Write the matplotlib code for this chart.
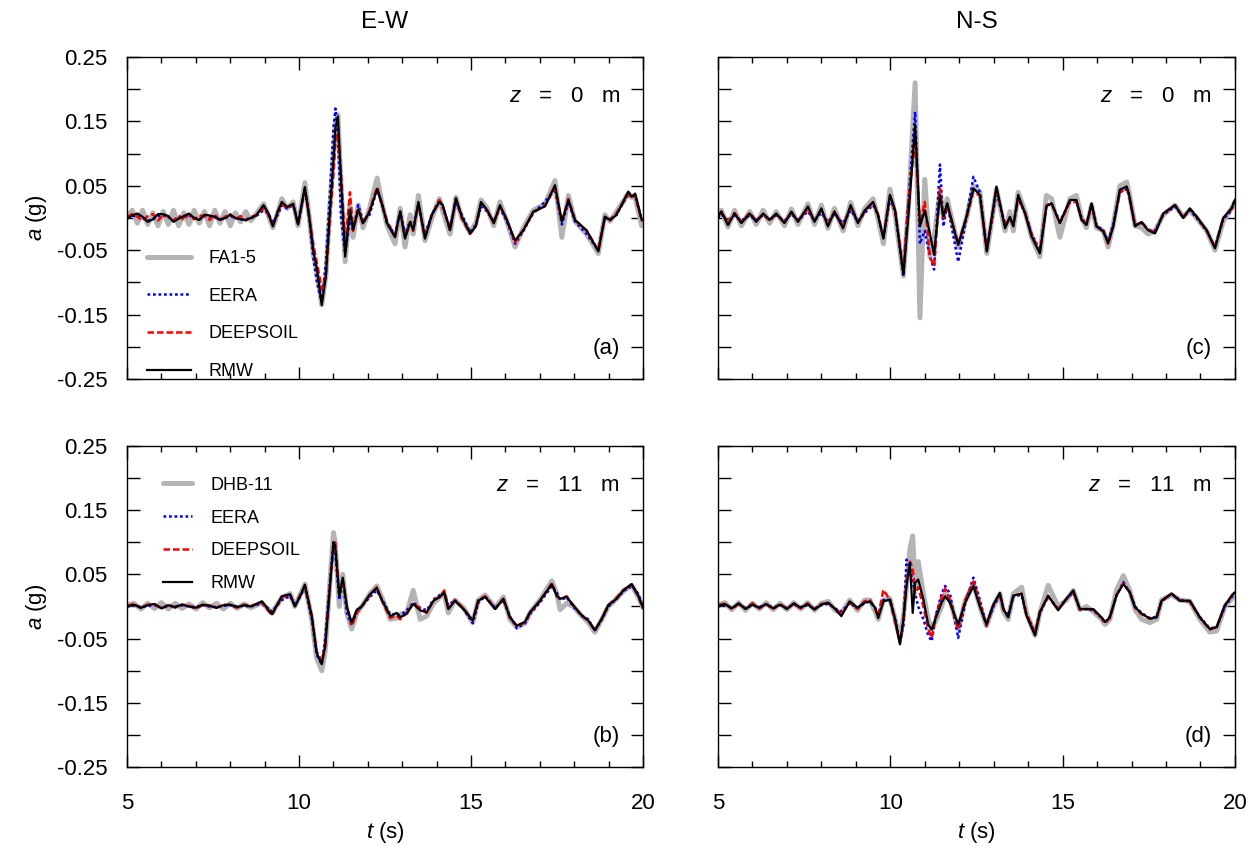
import matplotlib
matplotlib.use("Agg")
import matplotlib.pyplot as plt
from matplotlib.ticker import MultipleLocator

plt.rcParams['font.family'] = ['Liberation Sans', 'DejaVu Sans']
plt.rcParams['mathtext.fontset'] = 'custom'
plt.rcParams['mathtext.rm'] = 'Liberation Sans'
plt.rcParams['mathtext.it'] = 'Liberation Sans:italic'

# ---------------- panel (a): E-W, z = 0 m ----------------
t_a = [5.0, 5.15, 5.3, 5.45, 5.6, 5.75, 5.9, 6.05, 6.2, 6.35,
       6.5, 6.65, 6.8, 6.95, 7.1, 7.25, 7.4, 7.55, 7.7, 7.85,
       8.0, 8.15, 8.3, 8.45, 8.6, 8.75, 8.97, 9.1, 9.24, 9.38,
       9.5, 9.65, 9.83, 9.97, 10.17, 10.3, 10.41, 10.52, 10.66, 10.78,
       10.9, 11.0, 11.06, 11.13, 11.22, 11.34, 11.48, 11.57, 11.72, 11.86,
       12.05, 12.27, 12.42, 12.56, 12.79, 12.94, 13.08, 13.23, 13.32, 13.47,
       13.66, 13.86, 14.08, 14.18, 14.39, 14.56, 14.73, 14.97, 15.14, 15.29,
       15.47, 15.66, 15.84, 16.04, 16.28, 16.52, 16.81, 17.15, 17.44, 17.64,
       17.83, 18.02, 18.36, 18.7, 18.89, 19.04, 19.23, 19.57, 19.67, 19.77,
       19.96, 20.0]
rec_a = [0.0, 0.012, -0.008, 0.012, -0.01, 0.008, -0.012, 0.01, -0.01, 0.012,
         -0.012, 0.008, -0.01, 0.012, -0.008, 0.01, -0.012, 0.012, -0.008, 0.01,
         -0.012, 0.008, -0.006, 0.01, -0.004, 0.006, 0.022, 0.005, -0.015, 0.008,
         0.03, 0.015, 0.025, -0.012, 0.055, 0.0, -0.055, -0.085, -0.135, -0.09,
         0.02, 0.1, 0.15, 0.16, 0.05, -0.068, 0.02, -0.03, 0.02, -0.015,
         0.015, 0.062, 0.02, -0.012, -0.04, 0.015, -0.045, 0.005, -0.025, 0.035,
         -0.035, 0.0, 0.03, 0.01, -0.025, 0.032, 0.0, -0.022, -0.008, 0.028,
         0.015, -0.012, 0.025, -0.005, -0.045, -0.015, 0.012, 0.022, 0.058, -0.03,
         0.035, -0.005, -0.025, -0.055, 0.005, -0.005, 0.01, 0.038, 0.032, 0.032,
         -0.012, -0.01]
eera_a = [0.0, 0.003, 0.004, 0.0, -0.004, -0.002, 0.003, 0.004, 0.001, -0.003,
          0.0, 0.002, 0.004, 0.0, -0.002, 0.003, 0.002, 0.001, -0.002, 0.0,
          0.003, 0.0, -0.002, -0.002, 0.0, 0.003, 0.012, 0.008, -0.008, 0.005,
          0.02, 0.015, 0.02, -0.008, 0.045, 0.0, -0.06, -0.1, -0.13, -0.07,
          0.04, 0.14, 0.17, 0.13, 0.0, -0.055, 0.0, -0.02, 0.02, -0.005,
          0.005, 0.045, 0.02, -0.01, -0.025, 0.01, -0.025, -0.005, -0.015, 0.02,
          -0.025, 0.005, 0.028, 0.015, -0.015, 0.025, 0.005, -0.022, -0.01, 0.018,
          0.01, -0.005, 0.015, -0.005, -0.04, -0.02, 0.008, 0.025, 0.045, -0.01,
          0.025, -0.005, -0.025, -0.05, 0.0, -0.002, 0.005, 0.038, 0.032, 0.035,
          -0.002, -0.004]
deep_a = [0.002, 0.006, 0.002, -0.004, 0.003, 0.006, -0.004, 0.005, 0.002, -0.005,
          0.004, -0.003, 0.006, -0.002, 0.004, 0.003, -0.003, 0.005, -0.004, 0.002,
          0.006, -0.002, 0.003, -0.004, 0.002, 0.004, 0.015, 0.006, -0.012, 0.01,
          0.022, 0.015, 0.022, -0.01, 0.045, 0.0, -0.04, -0.07, -0.11, -0.09,
          0.0, 0.07, 0.12, 0.13, 0.07, -0.045, 0.04, -0.02, 0.015, -0.01,
          0.012, 0.048, 0.02, -0.005, -0.028, 0.01, -0.03, -0.006, -0.02, 0.022,
          -0.03, 0.005, 0.028, 0.018, -0.02, 0.03, 0.0, -0.025, -0.012, 0.022,
          0.012, -0.008, 0.018, -0.003, -0.038, -0.018, 0.008, 0.02, 0.046, -0.006,
          0.03, -0.003, -0.02, -0.05, 0.002, -0.004, 0.008, 0.036, 0.032, 0.035,
          -0.004, -0.003]
rmw_a = [-0.001, 0.004, 0.007, 0.002, -0.006, -0.002, 0.006, 0.006, 0.003, -0.006,
         -0.001, 0.003, 0.007, 0.0, -0.003, 0.005, 0.004, 0.002, -0.003, 0.0,
         0.005, 0.0, -0.002, -0.003, 0.0, 0.004, 0.02, 0.008, -0.013, 0.01,
         0.025, 0.017, 0.022, -0.01, 0.048, 0.0, -0.05, -0.08, -0.135, -0.09,
         0.013, 0.09, 0.14, 0.158, 0.06, -0.06, 0.013, -0.018, 0.013, -0.008,
         0.01, 0.045, 0.02, -0.008, -0.03, 0.01, -0.032, -0.006, -0.019, 0.025,
         -0.032, 0.005, 0.025, 0.02, -0.019, 0.031, 0.002, -0.024, -0.013, 0.025,
         0.012, -0.008, 0.02, -0.003, -0.035, -0.019, 0.01, 0.018, 0.051, -0.006,
         0.028, -0.003, -0.019, -0.052, 0.002, -0.003, 0.005, 0.041, 0.033, 0.038,
         -0.003, -0.002]

# ---------------- panel (b): E-W, z = 11 m ----------------
t_b = [5.0, 5.2, 5.4, 5.6, 5.8, 6.0, 6.2, 6.4, 6.6, 6.8,
       7.0, 7.2, 7.4, 7.6, 7.8, 8.0, 8.2, 8.4, 8.6, 8.92,
       9.21, 9.5, 9.74, 9.88, 10.03, 10.17, 10.37, 10.51, 10.66, 10.76,
       10.9, 11.0, 11.05, 11.17, 11.27, 11.39, 11.53, 11.68, 11.82, 12.06,
       12.26, 12.4, 12.65, 12.84, 12.94, 13.13, 13.32, 13.52, 13.71, 13.91,
       14.1, 14.22, 14.34, 14.53, 14.78, 15.05, 15.21, 15.41, 15.7, 15.94,
       16.13, 16.33, 16.57, 16.71, 17.0, 17.35, 17.49, 17.59, 17.78, 17.97,
       18.22, 18.41, 18.6, 18.8, 18.99, 19.23, 19.43, 19.67, 19.86, 20.0]
rec_b = [0.002, 0.005, -0.004, 0.005, -0.003, 0.006, -0.004, 0.005, -0.003, 0.004,
         -0.004, 0.006, -0.002, 0.005, -0.004, 0.005, -0.003, 0.004, -0.002, 0.006,
         -0.01, 0.014, 0.02, 0.0, 0.018, 0.035, -0.02, -0.08, -0.1, -0.07,
         0.04, 0.115, 0.1, 0.0, 0.05, -0.01, -0.035, -0.01, 0.0, 0.02,
         0.032, 0.015, -0.02, -0.018, -0.012, -0.01, 0.025, -0.02, -0.015, 0.005,
         0.015, 0.02, -0.01, 0.01, -0.002, -0.025, 0.01, 0.018, -0.002, 0.015,
         -0.02, -0.032, -0.026, -0.01, 0.01, 0.04, 0.02, -0.005, 0.005, 0.0,
         -0.015, -0.025, -0.04, -0.02, 0.0, 0.012, 0.024, 0.033, 0.015, -0.002]
eera_b = [0.0, 0.002, -0.001, 0.001, 0.002, -0.002, 0.001, 0.0, 0.002, 0.0,
          -0.001, 0.002, 0.0, -0.001, 0.001, 0.002, 0.0, 0.001, 0.0, 0.005,
          -0.008, 0.01, 0.016, 0.002, 0.015, 0.03, -0.02, -0.075, -0.09, -0.05,
          0.04, 0.1, 0.085, 0.01, 0.04, -0.01, -0.03, -0.008, 0.0, 0.015,
          0.025, 0.012, -0.012, -0.012, -0.014, -0.006, 0.006, -0.002, -0.006, 0.011,
          0.018, 0.02, 0.002, 0.01, -0.004, -0.026, 0.006, 0.016, -0.002, 0.01,
          -0.015, -0.034, -0.026, -0.012, 0.006, 0.032, 0.022, 0.01, 0.014, 0.0,
          -0.014, -0.02, -0.038, -0.02, 0.0, 0.012, 0.024, 0.032, 0.02, -0.002]
deep_b = [0.001, 0.004, -0.002, 0.003, 0.003, -0.003, 0.003, -0.002, 0.003, 0.001,
          -0.003, 0.002, 0.002, -0.002, 0.003, 0.002, -0.002, 0.003, 0.001, 0.006,
          -0.014, 0.015, 0.018, 0.001, 0.018, 0.03, -0.015, -0.07, -0.085, -0.06,
          0.035, 0.09, 0.1, 0.02, 0.04, 0.0, -0.03, -0.01, 0.0, 0.018,
          0.03, 0.01, -0.018, -0.014, -0.02, -0.01, 0.005, -0.003, -0.01, 0.01,
          0.016, 0.025, -0.003, 0.01, -0.003, -0.022, 0.01, 0.016, -0.003, 0.012,
          -0.018, -0.03, -0.025, -0.01, 0.008, 0.036, 0.016, 0.012, 0.016, 0.002,
          -0.015, -0.022, -0.037, -0.02, 0.002, 0.014, 0.026, 0.034, 0.016, -0.003]
rmw_b = [0.0, 0.003, -0.002, 0.002, 0.004, -0.003, 0.002, -0.001, 0.003, 0.0,
         -0.002, 0.003, 0.001, -0.002, 0.002, 0.003, -0.001, 0.002, 0.0, 0.008,
         -0.012, 0.016, 0.019, 0.0, 0.016, 0.034, -0.015, -0.072, -0.09, -0.062,
         0.032, 0.1, 0.095, 0.016, 0.045, 0.0, -0.025, -0.005, 0.0, 0.019,
         0.029, 0.011, -0.015, -0.01, -0.017, -0.011, 0.004, -0.006, -0.009, 0.009,
         0.015, 0.022, -0.004, 0.009, -0.004, -0.022, 0.009, 0.015, -0.004, 0.012,
         -0.017, -0.03, -0.024, -0.009, 0.009, 0.035, 0.017, 0.012, 0.015, 0.002,
         -0.014, -0.022, -0.037, -0.019, 0.002, 0.012, 0.025, 0.035, 0.017, -0.002]

# ---------------- panel (c): N-S, z = 0 m ----------------
t_c = [5.0, 5.1, 5.29, 5.48, 5.68, 5.92, 6.11, 6.31, 6.5, 6.69,
       6.93, 7.13, 7.32, 7.61, 7.8, 8.0, 8.19, 8.38, 8.63, 8.85,
       9.06, 9.26, 9.5, 9.64, 9.8, 9.99, 10.14, 10.38, 10.53, 10.72,
       10.86, 11.0, 11.15, 11.27, 11.44, 11.54, 11.65, 11.97, 12.21, 12.41,
       12.6, 12.8, 13.08, 13.33, 13.47, 13.57, 13.71, 13.91, 14.1, 14.34,
       14.53, 14.68, 14.92, 15.21, 15.4, 15.55, 15.69, 15.84, 15.98, 16.18,
       16.32, 16.47, 16.66, 16.86, 16.93, 17.1, 17.29, 17.48, 17.68, 17.92,
       18.26, 18.5, 18.69, 18.89, 19.18, 19.42, 19.66, 19.9, 20.0]
rec_c = [0.005, 0.012, -0.014, 0.012, -0.012, 0.01, -0.01, 0.012, -0.008, 0.01,
         -0.012, 0.014, -0.01, 0.022, -0.01, 0.02, -0.016, 0.015, -0.02, 0.024,
         -0.012, 0.015, 0.03, 0.0, -0.04, 0.045, 0.005, -0.09, 0.02, 0.21,
         -0.155, 0.06, -0.06, -0.03, 0.04, 0.0, 0.03, -0.045, 0.0, 0.05,
         0.04, -0.055, 0.045, -0.02, 0.01, -0.02, 0.04, 0.01, -0.03, -0.06,
         0.035, 0.03, -0.03, 0.03, 0.035, 0.0, -0.015, 0.02, -0.015, -0.02,
         -0.045, -0.01, 0.05, 0.056, 0.04, -0.012, -0.015, -0.025, -0.02, 0.005,
         0.02, 0.002, 0.012, 0.0, -0.02, -0.05, -0.005, 0.015, 0.025]
eera_c = [0.0, 0.006, -0.005, 0.004, -0.004, 0.004, -0.003, 0.004, -0.002, 0.004,
          -0.004, 0.006, -0.003, 0.01, -0.004, 0.008, -0.006, 0.006, -0.008, 0.012,
          -0.005, 0.008, 0.02, 0.005, -0.03, 0.03, 0.01, -0.09, 0.03, 0.165,
          -0.04, -0.02, -0.06, -0.08, 0.083, -0.013, 0.023, -0.068, 0.0, 0.064,
          0.04, -0.05, 0.04, -0.01, 0.0, -0.01, 0.03, 0.008, -0.025, -0.05,
          0.02, 0.022, -0.005, 0.025, 0.025, 0.0, -0.01, 0.02, -0.01, -0.02,
          -0.035, -0.01, 0.04, 0.045, 0.035, -0.01, -0.008, -0.018, -0.02, 0.005,
          0.018, 0.002, 0.012, 0.0, -0.02, -0.045, -0.002, 0.012, 0.03]
deep_c = [0.004, 0.01, -0.008, 0.008, -0.006, 0.008, -0.004, 0.006, -0.004, 0.006,
          -0.006, 0.008, -0.004, 0.014, -0.004, 0.012, -0.01, 0.01, -0.012, 0.018,
          -0.006, 0.01, 0.024, 0.006, -0.03, 0.035, 0.01, -0.08, 0.03, 0.12,
          -0.01, 0.025, -0.06, -0.075, 0.046, 0.0, 0.02, -0.04, 0.0, 0.04,
          0.035, -0.05, 0.045, -0.012, 0.0, -0.012, 0.03, 0.008, -0.025, -0.052,
          0.02, 0.022, -0.008, 0.025, 0.025, -0.002, -0.01, 0.02, -0.012, -0.02,
          -0.04, -0.012, 0.04, 0.046, 0.034, -0.012, -0.006, -0.018, -0.022, 0.006,
          0.02, 0.0, 0.014, 0.002, -0.02, -0.045, 0.0, 0.014, 0.026]
rmw_c = [0.002, 0.01, -0.011, 0.007, -0.008, 0.007, -0.006, 0.007, -0.003, 0.007,
         -0.008, 0.01, -0.006, 0.018, -0.006, 0.015, -0.013, 0.01, -0.016, 0.02,
         -0.008, 0.012, 0.025, 0.005, -0.032, 0.036, 0.012, -0.088, 0.007, 0.145,
         -0.013, 0.012, -0.024, -0.057, 0.036, 0.002, 0.023, -0.042, 0.002, 0.046,
         0.036, -0.052, 0.049, -0.016, 0.002, -0.013, 0.036, 0.007, -0.029, -0.055,
         0.018, 0.023, -0.008, 0.028, 0.028, -0.003, -0.011, 0.023, -0.013, -0.021,
         -0.039, -0.013, 0.044, 0.049, 0.036, -0.013, -0.006, -0.019, -0.024, 0.007,
         0.02, 0.0, 0.015, 0.002, -0.019, -0.047, 0.0, 0.015, 0.028]

# ---------------- panel (d): N-S, z = 11 m ----------------
t_d = [5.0, 5.2, 5.4, 5.6, 5.8, 6.0, 6.2, 6.4, 6.6, 6.8,
       7.0, 7.2, 7.4, 7.6, 7.8, 8.0, 8.2, 8.4, 8.58, 8.82,
       9.05, 9.25, 9.41, 9.56, 9.65, 9.8, 9.99, 10.14, 10.28, 10.38,
       10.47, 10.57, 10.65, 10.72, 10.81, 10.96, 11.1, 11.2, 11.34, 11.49,
       11.59, 11.73, 11.97, 12.17, 12.41, 12.6, 12.79, 12.99, 13.18, 13.28,
       13.42, 13.57, 13.81, 13.95, 14.2, 14.34, 14.58, 14.87, 15.11, 15.31,
       15.5, 15.69, 15.89, 16.13, 16.23, 16.37, 16.56, 16.76, 16.95, 17.1,
       17.29, 17.53, 17.73, 17.87, 18.16, 18.4, 18.69, 18.98, 19.27, 19.47,
       19.71, 19.95, 20.0]
rec_d = [0.002, 0.006, -0.005, 0.006, -0.006, 0.005, -0.004, 0.006, -0.005, 0.005,
         -0.005, 0.006, -0.004, 0.006, -0.006, 0.005, 0.008, -0.006, -0.01, 0.01,
         -0.006, 0.01, 0.01, -0.008, -0.02, 0.01, 0.012, -0.02, -0.05, -0.015,
         0.03, 0.09, 0.11, 0.03, 0.07, 0.02, -0.02, -0.035, -0.02, 0.0,
         0.02, 0.01, -0.035, 0.008, 0.035, 0.0, -0.03, 0.0, 0.02, -0.008,
         -0.02, 0.02, 0.03, -0.01, -0.045, -0.01, 0.033, 0.0, 0.01, 0.025,
         -0.005, 0.0, -0.008, -0.02, -0.028, -0.02, 0.025, 0.048, 0.025, -0.005,
         -0.02, -0.025, -0.02, 0.01, 0.018, 0.01, 0.008, -0.02, -0.04, -0.038,
         0.0, 0.015, 0.018]
eera_d = [0.0, 0.003, -0.002, 0.003, -0.002, 0.002, -0.001, 0.003, -0.002, 0.002,
          -0.002, 0.003, -0.001, 0.002, -0.003, 0.002, 0.004, -0.003, -0.008, 0.005,
          -0.002, 0.005, 0.008, -0.002, -0.012, 0.01, 0.01, -0.02, -0.055, -0.03,
          0.073, 0.06, 0.04, 0.02, 0.0, -0.02, -0.045, -0.054, -0.01, 0.02,
          0.032, 0.02, -0.049, 0.005, 0.045, 0.01, -0.03, 0.0, 0.018, -0.004,
          -0.014, 0.016, 0.018, -0.012, -0.04, -0.01, 0.015, -0.004, 0.012, 0.022,
          -0.004, -0.004, -0.006, -0.018, -0.026, -0.016, 0.016, 0.038, 0.022, 0.0,
          -0.01, -0.018, -0.016, 0.008, 0.02, 0.01, 0.008, -0.016, -0.034, -0.032,
          0.0, 0.018, 0.022]
deep_d = [0.002, 0.005, -0.004, 0.004, -0.003, 0.005, -0.003, 0.003, -0.004, 0.004,
          -0.003, 0.004, -0.003, 0.005, -0.004, 0.004, 0.005, -0.003, -0.012, 0.006,
          -0.004, 0.008, 0.01, -0.004, -0.015, 0.026, 0.01, -0.025, -0.056, -0.025,
          0.04, 0.07, 0.06, 0.02, 0.03, 0.0, -0.035, -0.049, -0.01, 0.015,
          0.028, 0.01, -0.036, 0.01, 0.039, 0.005, -0.03, 0.002, 0.02, -0.005,
          -0.016, 0.016, 0.02, -0.012, -0.042, -0.008, 0.016, -0.005, 0.012, 0.024,
          -0.005, -0.004, -0.005, -0.018, -0.026, -0.018, 0.018, 0.036, 0.022, -0.002,
          -0.012, -0.019, -0.016, 0.008, 0.02, 0.009, 0.008, -0.017, -0.036, -0.032,
          0.002, 0.02, 0.023]
rmw_d = [0.0, 0.004, -0.003, 0.005, -0.004, 0.003, -0.002, 0.004, -0.003, 0.003,
         -0.004, 0.005, -0.002, 0.004, -0.005, 0.003, 0.006, -0.004, -0.015, 0.008,
         -0.002, 0.006, 0.008, -0.002, -0.018, 0.008, 0.011, -0.02, -0.059, -0.02,
         0.032, 0.068, -0.01, 0.037, 0.042, 0.011, -0.028, -0.036, -0.015, 0.006,
         0.016, 0.006, -0.028, 0.006, 0.032, 0.0, -0.028, 0.003, 0.021, -0.004,
         -0.017, 0.017, 0.02, -0.014, -0.045, -0.009, 0.017, -0.006, 0.012, 0.025,
         -0.004, -0.004, -0.004, -0.017, -0.024, -0.017, 0.017, 0.035, 0.022, -0.001,
         -0.011, -0.019, -0.017, 0.009, 0.02, 0.009, 0.009, -0.017, -0.035, -0.032,
         0.002, 0.02, 0.022]

yticks = [-0.25, -0.15, -0.05, 0.05, 0.15, 0.25]
ytick_labels = ['-0.25', '-0.15', '-0.05', '0.05', '0.15', '0.25']

fig = plt.figure(figsize=(12.53, 8.46), dpi=100)
ax_a = fig.add_axes([0.1014, 0.552, 0.4118, 0.3806])
ax_b = fig.add_axes([0.1014, 0.0934, 0.4118, 0.3794])
ax_c = fig.add_axes([0.573, 0.552, 0.4126, 0.3806])
ax_d = fig.add_axes([0.573, 0.0934, 0.4126, 0.3794])

panels = [
    (ax_a, t_a, rec_a, eera_a, deep_a, rmw_a, 'FA1-5', '$z$   =   0   m', '(a)'),
    (ax_b, t_b, rec_b, eera_b, deep_b, rmw_b, 'DHB-11', '$z$   =   11   m', '(b)'),
    (ax_c, t_c, rec_c, eera_c, deep_c, rmw_c, 'FA1-5', '$z$   =   0   m', '(c)'),
    (ax_d, t_d, rec_d, eera_d, deep_d, rmw_d, 'DHB-11', '$z$   =   11   m', '(d)'),
]

for ax, t, rec, eera, deep, rmw, rec_name, depth, tag in panels:
    assert len(t) == len(rec) == len(eera) == len(deep) == len(rmw)
    ax.plot(t, rec, color='#b4b4b4', lw=3.6, solid_joinstyle='round',
            solid_capstyle='round', label=rec_name)
    ax.plot(t, eera, color='#0000ff', lw=1.8, ls=(0, (1.1, 1.1)), label='EERA')
    ax.plot(t, deep, color='#ff0000', lw=1.8, ls=(0, (2.6, 1.2)), label='DEEPSOIL')
    ax.plot(t, rmw, color='black', lw=1.6, solid_joinstyle='round', label='RMW')

    ax.set_xlim(5, 20)
    ax.set_ylim(-0.25, 0.25)
    ax.xaxis.set_major_locator(MultipleLocator(5))
    ax.xaxis.set_minor_locator(MultipleLocator(1))
    ax.set_yticks(yticks)
    ax.yaxis.set_minor_locator(MultipleLocator(0.05))
    ax.tick_params(which='both', direction='in', top=True, right=True,
                   labelsize=16, width=1)
    ax.tick_params(axis='x', which='major', length=9, pad=19)
    ax.tick_params(axis='x', which='minor', length=4.5)
    ax.tick_params(axis='y', which='both', length=9, pad=14)
    for sp in ax.spines.values():
        sp.set_linewidth(1)

    ax.text(0.955, 0.876, depth, transform=ax.transAxes, ha='right', va='center', fontsize=16)
    ax.text(0.955, 0.095, tag, transform=ax.transAxes, ha='right', va='center', fontsize=16)

for ax in (ax_a, ax_b):
    ax.set_yticklabels(ytick_labels)
    ax.set_ylabel('$a$ (g)', fontsize=16, labelpad=6)
for ax in (ax_c, ax_d):
    ax.set_yticklabels([])
for ax in (ax_a, ax_c):
    ax.set_xticklabels([])
for ax in (ax_b, ax_d):
    ax.set_xlabel('$t$ (s)', fontsize=16, labelpad=4)

ax_a.set_title('E-W', fontsize=17.5, pad=21)
ax_c.set_title('N-S', fontsize=17.5, pad=21)

ax_a.legend(loc='lower left', bbox_to_anchor=(0.008, -0.054), frameon=False, fontsize=13,
            handlelength=2.4, handletextpad=1.0, labelspacing=1.15, borderpad=0.4)
ax_b.legend(loc='upper left', bbox_to_anchor=(0.039, 0.955), frameon=False, fontsize=13,
            handlelength=1.6, handletextpad=1.0, labelspacing=0.88, borderpad=0.4)

fig.savefig('out.png', dpi=100)
